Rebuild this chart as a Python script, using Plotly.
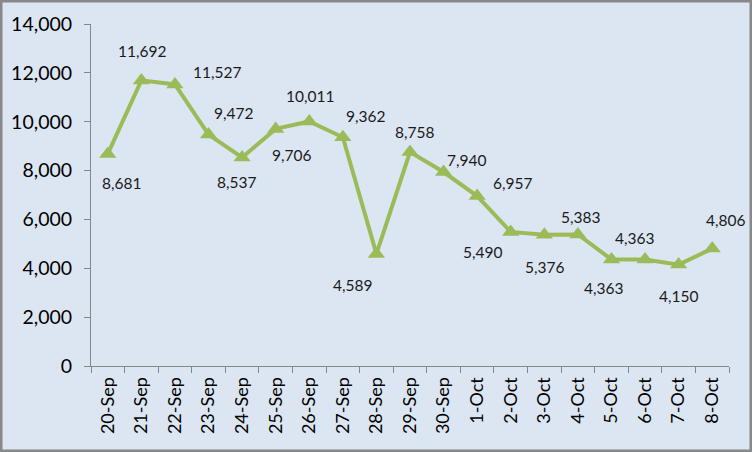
import plotly.graph_objects as go

dates = ["20-Sep", "21-Sep", "22-Sep", "23-Sep", "24-Sep", "25-Sep", "26-Sep",
         "27-Sep", "28-Sep", "29-Sep", "30-Sep", "1-Oct", "2-Oct", "3-Oct",
         "4-Oct", "5-Oct", "6-Oct", "7-Oct", "8-Oct"]
values = [8681, 11692, 11527, 9472, 8537, 9706, 10011, 9362, 4589, 8758,
          7940, 6957, 5490, 5376, 5383, 4363, 4363, 4150, 4806]

# label offsets in pixels (dx right, dy down) relative to each point
label_dx = [14, 1, 42, 25, -6, 16, 1, 23, -24, 4, 23, 35, -28, 0, 3, -8, -11, 0, 13]
label_dy = [29, -29, -12, -22, 25, 26, -25, -21, 31, -20, -12, -13, 20, 32, -18, 29, -21, 31, -29]

W, H = 752, 452
ml, mr, mt, mb = 91, 23, 24, 86
BG = "#DCE6F2"
GREEN = "#9BBB59"
AX = "#868686"
FONT = "Lato"

fig = go.Figure()
fig.add_trace(go.Scatter(
    x=dates, y=values, mode="lines+markers",
    line=dict(color=GREEN, width=4),
    marker=dict(symbol="triangle-up", size=15, color=GREEN),
    hoverinfo="x+y", showlegend=False,
))

for d, v, dx, dy in zip(dates, values, label_dx, label_dy):
    fig.add_annotation(
        x=d, y=v, text=f"{v:,}", showarrow=False,
        xshift=dx, yshift=-dy,
        font=dict(family=FONT, size=15.5, color="#1a1a1a"),
    )

pw = W - ml - mr
ph = H - mt - mb
fig.add_shape(
    type="rect", xref="paper", yref="paper",
    x0=-ml / pw, x1=1 + mr / pw, y0=-mb / ph, y1=1 + mt / ph,
    line=dict(color="#888888", width=5), fillcolor="rgba(0,0,0,0)", layer="above",
)

fig.update_layout(
    width=W, height=H,
    margin=dict(l=ml, r=mr, t=mt, b=mb, pad=0),
    paper_bgcolor=BG, plot_bgcolor=BG,
    font=dict(family=FONT, color="#000000"),
    xaxis=dict(
        type="category", range=[-0.5, len(dates) - 0.5],
        showgrid=False, zeroline=False,
        showline=True, linecolor=AX, linewidth=1,
        ticks="outside", ticklen=6, tickcolor=AX, tickson="boundaries",
        tickangle=-90, tickfont=dict(family=FONT, size=18, color="#000000"),
        ticklabelstandoff=3,
    ),
    yaxis=dict(
        range=[0, 14000], dtick=2000, tickformat=",",
        showgrid=False, zeroline=False,
        showline=True, linecolor=AX, linewidth=1,
        ticks="outside", ticklen=6, tickcolor=AX,
        tickfont=dict(family=FONT, size=19.5, color="#000000"),
        ticklabelstandoff=8,
    ),
)

fig.write_html("out.html")
